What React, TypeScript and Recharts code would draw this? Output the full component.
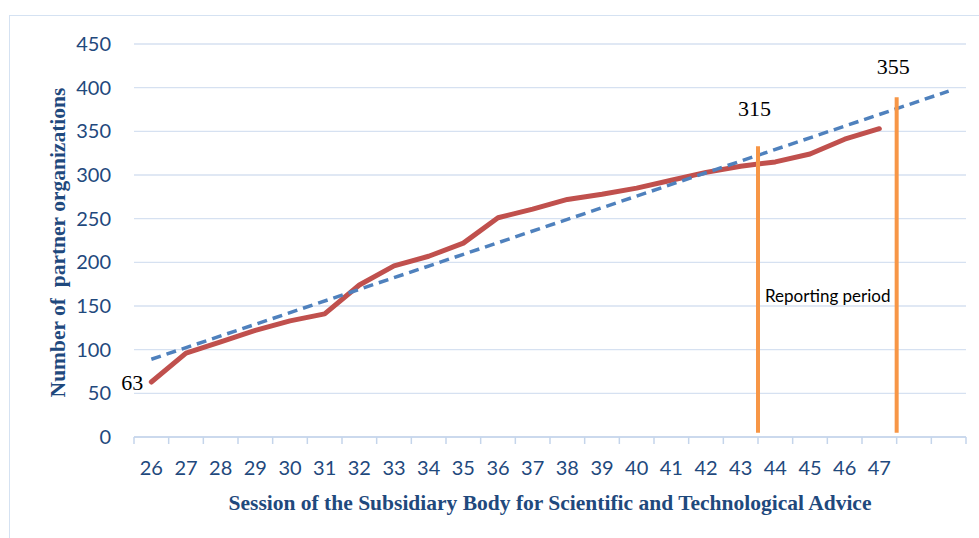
import React from 'react';
import {
  ComposedChart,
  Line,
  XAxis,
  YAxis,
  CartesianGrid,
  ReferenceLine,
  ReferenceDot,
} from 'recharts';

// ---- data ----
const sessions = ['26', '27', '28', '29', '30', '31', '32', '33', '34', '35', '36', '37', '38', '39', '40', '41', '42', '43', '44', '45', '46', '47'];
const partners = [63, 96, 109, 122, 133, 141, 174, 196, 207, 222, 251, 261, 272, 278, 285, 294, 303, 310, 315, 324, 341, 353];
const forecastPeriods = 2;
const trendEnds = [89, 396];
const yTicks = [0, 50, 100, 150, 200, 250, 300, 350, 400, 450];
const reportingMarks = [
  { after: '43', top: 333, label: '315', labelValue: 377 },
  { after: '47', top: 389, label: '355', labelValue: 425 },
];
const reportingBottom = 5;
const reportingText = 'Reporting period';
const reportingTextValue = 162;
const xTitle = 'Session of the Subsidiary Body for Scientific and Technological Advice';
const yTitle = 'Number of\u00a0 partner organizations';

// ---- derived table ----
const slotCount = sessions.length + forecastPeriods;
const rows = Array.from({ length: slotCount }, (_, i) => ({
  x: i + 0.5,
  partners: i < partners.length ? partners[i] : null,
  trend: i === 0 ? trendEnds[0] : i === slotCount - 1 ? trendEnds[1] : null,
}));
const boundaryTicks = Array.from({ length: slotCount + 1 }, (_, i) => i);
const centerTicks = sessions.map((_, i) => i + 0.5);
const boundaryAfter = (s: string) => sessions.indexOf(s) + 1;

const BLUE_TEXT = '#1F497D';
const GRID = '#D6E1F1';
const AXIS = '#C5D5EB';
const SANS = 'Lato, "Open Sans", sans-serif';
const SERIF = '"Liberation Serif", "Times New Roman", serif';

export default function App() {
  return (
    <div style={{ position: 'absolute', left: 0, top: 0, width: 979, height: 538, overflow: 'hidden', background: '#fff' }}>
      <div
        style={{
          position: 'absolute',
          left: 9,
          top: 15,
          width: 1000,
          height: 600,
          border: '1.5px solid #D5E2F2',
          boxSizing: 'border-box',
        }}
      />
      <div style={{ position: 'absolute', left: 0, top: 0 }}>
        <ComposedChart
          width={979}
          height={538}
          data={rows}
          margin={{ top: 44, right: 13, bottom: 0, left: 0 }}
        >
          <CartesianGrid xAxisId="x" vertical={false} stroke={GRID} strokeWidth={1.3} />
          <XAxis
            xAxisId="b"
            type="number"
            dataKey="x"
            domain={[0, slotCount]}
            ticks={boundaryTicks}
            interval={0}
            tick={() => <g />}
            tickLine={{ stroke: AXIS, strokeWidth: 1.5 }}
            tickSize={7}
            axisLine={{ stroke: AXIS, strokeWidth: 1.5 }}
            height={8}
            allowDataOverflow
          />
          <XAxis
            xAxisId="x"
            type="number"
            dataKey="x"
            domain={[0, slotCount]}
            ticks={centerTicks}
            interval={0}
            tickFormatter={(v: number) => sessions[Math.round(v - 0.5)] ?? ''}
            axisLine={false}
            tickLine={false}
            tickMargin={10}
            height={93}
            tick={{ fill: BLUE_TEXT, fontSize: 20, fontFamily: SANS }}
            allowDataOverflow
            label={{
              content: (p: any) => {
                const vb = p.viewBox || {};
                return (
                  <text
                    x={vb.x + vb.width / 2}
                    y={510}
                    textAnchor="middle"
                    fill={BLUE_TEXT}
                    fontFamily={SERIF}
                    fontWeight="bold"
                    fontSize={21.5}
                  >
                    {xTitle}
                  </text>
                );
              },
            }}
          />
          <YAxis
            width={134}
            domain={[0, 450]}
            ticks={yTicks}
            axisLine={false}
            tickLine={false}
            tickMargin={17}
            tick={{ fill: BLUE_TEXT, fontSize: 20, fontFamily: SANS }}
            label={{
              content: (p: any) => {
                const vb = p.viewBox || {};
                const cx = 57;
                const cy = vb.y + vb.height / 2 + 2;
                return (
                  <text
                    x={cx}
                    y={cy}
                    dy="0.35em"
                    transform={`rotate(-90, ${cx}, ${cy})`}
                    textAnchor="middle"
                    fill={BLUE_TEXT}
                    fontFamily={SERIF}
                    fontWeight="bold"
                    fontSize={21.5}
                  >
                    {yTitle}
                  </text>
                );
              },
            }}
          />
          <Line
            xAxisId="x"
            type="linear"
            dataKey="partners"
            stroke="#C0504D"
            strokeWidth={5}
            strokeLinejoin="round"
            strokeLinecap="round"
            dot={false}
            activeDot={false}
            isAnimationActive={false}
          />
          <Line
            xAxisId="x"
            type="linear"
            dataKey="trend"
            connectNulls
            stroke="#4F81BD"
            strokeWidth={3.5}
            strokeDasharray="10 6"
            dot={false}
            activeDot={false}
            isAnimationActive={false}
          />
          {reportingMarks.map((m) => (
            <ReferenceLine
              key={`rl-${m.after}`}
              xAxisId="x"
              ifOverflow="visible"
              segment={[
                { x: boundaryAfter(m.after), y: reportingBottom },
                { x: boundaryAfter(m.after), y: m.top },
              ]}
              stroke="#F79646"
              strokeWidth={4}
            />
          ))}
          {reportingMarks.map((m) => (
            <ReferenceDot
              key={`rd-${m.after}`}
              xAxisId="x"
              ifOverflow="visible"
              x={boundaryAfter(m.after) - 0.1}
              y={m.labelValue}
              r={0}
              fill="none"
              stroke="none"
              label={{ value: m.label, position: 'center', fill: '#000', fontSize: 22, fontFamily: SERIF }}
            />
          ))}
          <ReferenceDot
            xAxisId="x"
            ifOverflow="visible"
            x={0.5}
            y={partners[0]}
            r={0}
            fill="none"
            stroke="none"
            label={{ value: String(partners[0]), position: 'left', offset: 8, fill: '#000', fontSize: 22, fontFamily: SERIF }}
          />
          <ReferenceDot
            xAxisId="x"
            ifOverflow="visible"
            x={boundaryAfter(reportingMarks[0].after)}
            y={reportingTextValue}
            r={0}
            fill="none"
            stroke="none"
            label={{ value: reportingText, position: 'right', offset: 7, fill: '#000', fontSize: 17, fontFamily: SANS }}
          />
        </ComposedChart>
      </div>
    </div>
  );
}
